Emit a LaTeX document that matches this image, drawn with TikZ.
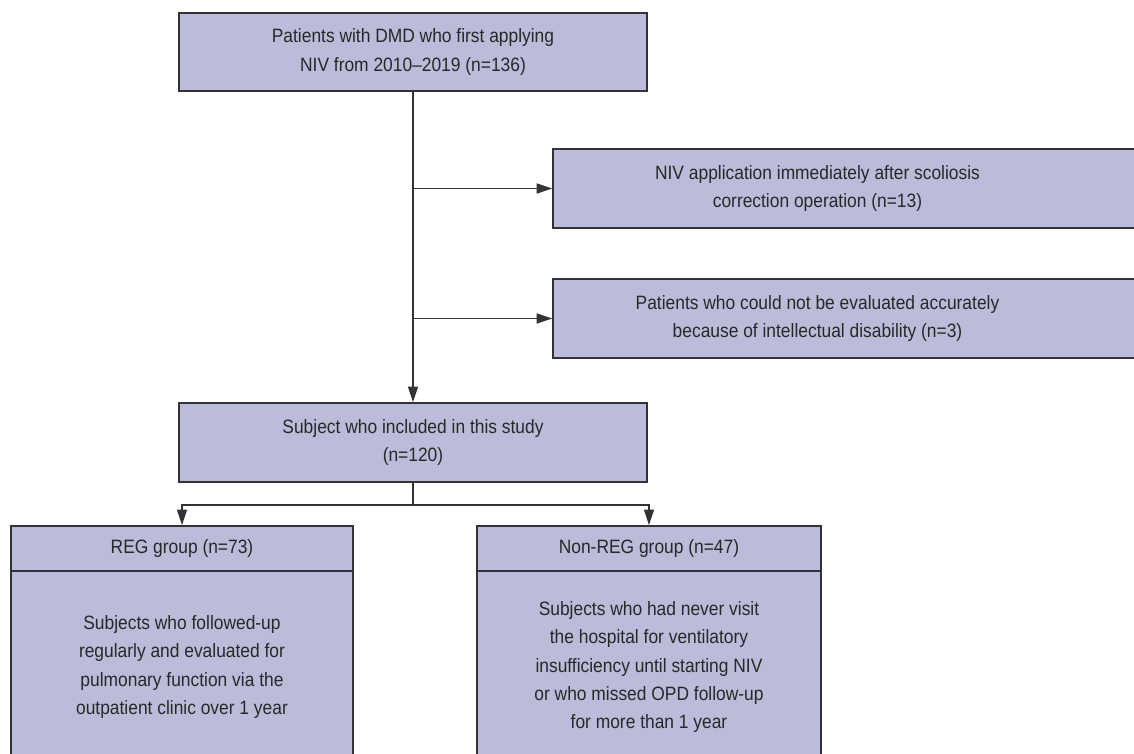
\documentclass[tikz,border=0pt]{standalone}
\usepackage{fontspec}
\setmainfont{Liberation Sans}[FakeStretch=0.9]
\usepackage{tikz}
\usetikzlibrary{arrows.meta}
\definecolor{boxfill}{RGB}{187,187,218}
\definecolor{boxline}{RGB}{50,50,55}
\definecolor{txt}{RGB}{40,40,40}
\newcommand{\padr}{\hspace*{1.08cm}}
\tikzset{box/.style={draw=boxline, line width=1pt, fill=boxfill, inner sep=0pt, align=center,
    text=txt, font=\fontsize{11}{16.2}\selectfont},
  link/.style={draw=boxline, line width=0.85pt},
  arr/.style={link, -{Triangle[length=0.31cm, width=0.2cm]}}}

\begin{document}
\begin{tikzpicture}[x=0.02cm, y=-0.02cm]
    \useasboundingbox (0,0) rectangle (1134,754);
    \begin{scope}
    \clip (0,0) rectangle (1134,754);
    \node [box, minimum width=9.36cm, minimum height=1.56cm] (patients) at (413,52)
      {Patients with DMD who first applying\\NIV from 2010--2019 (n=136)};
    \node [box, minimum width=11.66cm, minimum height=1.58cm] (surgery) at (844.5,188.5)
      {NIV application immediately after scoliosis\padr\\correction operation (n=13)\padr};
    \node [box, minimum width=11.66cm, minimum height=1.58cm] (disability) at (844.5,318.5)
      {Patients who could not be evaluated accurately\padr\\because of intellectual disability (n=3)\padr};
    \node [box, minimum width=9.36cm, minimum height=1.58cm] (included) at (413,442.5)
      {Subject who included in this study\\(n=120)};

    \node [box, minimum width=6.84cm, minimum height=0.9cm] (reghead) at (182,548.5) {REG group (n=73)};
    \node [box, minimum width=6.84cm, minimum height=3.84cm] (regbody) at (182,667)
      {Subjects who followed-up\\regularly and evaluated for\\pulmonary function via the\\outpatient clinic over 1 year};
    \node [box, minimum width=6.88cm, minimum height=0.9cm] (nonhead) at (649,548.5) {Non-REG group (n=47)};
    \node [box, minimum width=6.88cm, minimum height=3.84cm] (nonbody) at (649,667)
      {Subjects who had never visit\\the hospital for ventilatory\\insufficiency until starting NIV\\or who missed OPD follow-up\\for more than 1 year};
    \end{scope}

    \draw [arr] (patients.south) -- (included.north);
    \draw [arr] (patients.south |- surgery.west) -- (surgery.west);
    \draw [arr] (patients.south |- disability.west) -- (disability.west);

    \draw [link] (included.south) -- ++(0,22) coordinate (split);
    \draw [arr] (split) -| (reghead.north);
    \draw [arr] (split) -| (nonhead.north);
\end{tikzpicture}
\end{document}
